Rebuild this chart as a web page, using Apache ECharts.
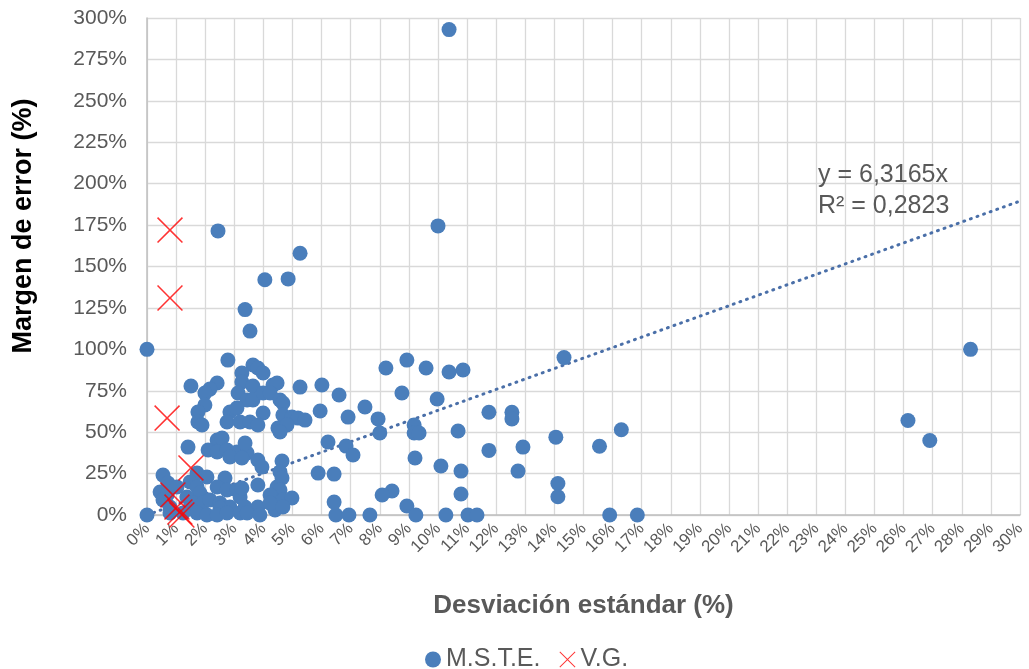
<!DOCTYPE html>
<html>
<head>
<meta charset="utf-8">
<script src="https://cdn.jsdelivr.net/npm/echarts@6/dist/echarts.min.js"></script>
<style>
html,body{margin:0;padding:0;background:#fff;}
#chart{width:1029px;height:669px;}
</style>
</head>
<body>
<div id="chart"></div>
<script>
// M.S.T.E. series: standard deviation (%) and error margin (%)
const msteX = [
  0, 0, 10.38, 2.44, 10.0, 5.26, 4.05, 4.85, 3.37, 3.54, 14.33, 28.3, 26.15, 26.9, 16.3, 15.55, 15.9, 16.85,
  14.05, 14.12, 14.12, 12.92, 12.75, 12.54, 12.54, 11.75, 11.75, 10.86, 10.38, 9.97, 10.69, 10.79, 10.79, 10.1,
  10.27, 11.03, 11.34, 9.59, 8.93, 9.18, 9.18, 9.35, 9.21, 8.93, 9.24, 8.76, 8.21, 7.94, 8.0, 8.42, 8.08, 7.66,
  7.49, 6.91, 6.84, 7.08, 6.6, 6.49, 6.94, 6.43, 6.43, 6.22, 5.95, 6.01, 5.88, 5.26,
  2.78, 3.64, 3.81, 3.99, 3.26, 3.26, 1.51, 2.41, 2.16, 1.99, 3.13, 3.64, 4.33, 4.47, 3.44, 3.64, 3.99, 4.23,
  4.57, 4.67, 1.99, 1.75, 2.85, 3.09, 3.99, 1.75, 1.89, 2.75, 3.20, 3.54, 3.81, 4.67, 4.98, 5.19, 5.43, 4.50,
  4.81, 4.57,
  1.41, 2.41, 2.58, 2.10, 2.41, 2.75, 3.09, 3.44, 2.85, 3.37, 3.26, 3.81, 3.95, 4.64, 4.57, 4.64, 0.55, 1.72,
  2.06, 2.68,
  0.72, 0.45, 0.69, 1.03, 1.48, 1.72, 1.82, 2.41, 2.75, 3.09, 3.20, 1.37, 1.58, 1.92, 2.16, 2.51, 2.85, 1.48,
  2.51, 0.79, 1.24, 1.72, 2.06, 2.41, 2.75, 3.20, 3.81, 3.26, 4.47, 4.57, 4.23, 4.67, 4.98, 3.37, 3.81, 4.40,
  3.44, 3.88, 4.23, 4.67, 0.55, 0.79
];
const msteY = [
  100, 0, 293, 171.5, 174.5, 158, 142, 142.5, 124, 111, 95, 100, 57, 45, 51.5, 41.5, 0, 0,
  47, 19, 11, 41, 26.5, 62, 58, 62, 39, 87.5, 86.3, 70, 50.7, 26.5, 12.7, 29.6,
  0, 0, 0, 88.7, 93.5, 54.3, 49.5, 49.5, 34.4, 5.4, 0, 73.6, 88.7, 58, 49.5, 14.5, 12.1, 0,
  65.2, 59.1, 41.6, 36.2, 72.4, 0, 0, 24.7, 7.8, 44.1, 62.8, 78.5, 25.3, 77.2,
  93.5, 90.5, 88.7, 85.7, 85.7, 80.3, 77.9, 79.7, 76.0, 73.6, 73.6, 77.9, 78.5, 79.7, 69.4, 69.4, 73.6, 73.6,
  69.4, 67.6, 66.4, 62.2, 62.2, 64.6, 61.6, 56.1, 54.3, 56.1, 56.1, 56.1, 54.3, 60.4, 59.1, 58.5, 57.3, 52.5,
  54.3, 50.1,
  41.0, 45.3, 46.5, 39.2, 38.0, 39.2, 38.0, 37.4, 35.0, 43.5, 34.4, 33.2, 29.0, 32.6, 26.0, 22.3, 24.1, 25.3,
  22.9, 22.3,
  19.3, 13.9, 12.1, 16.9, 19.9, 16.9, 13.3, 16.9, 15.1, 15.1, 10.9, 10.9, 7.2, 7.2, 9.1, 7.2, 4.8, 4.2,
  4.2, 1.2, 1.2, 1.2, 0, 0, 1.2, 1.2, 18.1, 16.3, 16.9, 15.1, 12.1, 9.1, 10.3, 4.8, 4.8, 3.0,
  1.2, 0, 7.2, 4.8, 9.1, 4.8
];
// V.G. series
const vgX = [0.79, 0.79, 0.69, 1.51, 0.89, 1.03, 1.13, 1.20];
const vgY = [172, 131, 58.5, 28.4, 12.1, 4.8, 1.8, 0];
// Linear trendline through origin
const trendSlope = 6.3165;
const trendR2 = '0,2823';
const trendRange = [0, 30];
const seriesNames = ['M.S.T.E.', 'V.G.'];

const crossPath = 'path://M0,1 L1,0 L12,11 L23,0 L24,1 L13,12 L24,23 L23,24 L12,13 L1,24 L0,23 L11,12 Z';
const txt = '#595959';
const font = 'Liberation Sans, Arial, sans-serif';

const chart = echarts.init(document.getElementById('chart'));
chart.setOption({
  animation: false,
  backgroundColor: '#fff',
  textStyle: {fontFamily: font},
  grid: {left: 147, right: 9, top: 18, bottom: 154, containLabel: false},
  xAxis: {
    type: 'value', min: 0, max: 30, interval: 1,
    name: 'Desviación estándar (%)', nameLocation: 'middle', nameGap: 78,
    nameTextStyle: {fontSize: 26, fontWeight: 'bold', color: txt},
    axisLine: {show: true, lineStyle: {color: '#bfbfbf', width: 1.5}},
    axisTick: {show: false},
    axisLabel: {formatter: '{value}%', rotate: 45, fontSize: 17, color: txt, margin: 11},
    splitLine: {show: true, lineStyle: {color: '#d9d9d9', width: 1.3}}
  },
  yAxis: {
    type: 'value', min: 0, max: 300, interval: 25,
    axisLine: {show: true, lineStyle: {color: '#bfbfbf', width: 1.5}},
    axisTick: {show: false},
    axisLabel: {formatter: '{value}%', fontSize: 21, color: txt, margin: 20},
    splitLine: {show: true, lineStyle: {color: '#d9d9d9', width: 1.3}}
  },
  legend: {
    data: [
      {name: seriesNames[0], icon: 'circle'},
      {name: seriesNames[1], icon: crossPath}
    ],
    top: 642, left: 420, itemGap: 19, itemWidth: 16, itemHeight: 16,
    textStyle: {fontSize: 25, color: txt}
  },
  graphic: [
    {
      type: 'text', left: 818, top: 160, z: 100,
      style: {text: 'y = ' + String(trendSlope).replace('.', ',') + 'x\nR² = ' + trendR2, fontSize: 25, lineHeight: 31, fill: txt,
        fontFamily: font}
    },
    {
      type: 'text', x: 24, y: 226, rotation: Math.PI / 2, z: 100,
      style: {text: 'Margen de error (%)', fontSize: 27, fontWeight: 'bold', fill: '#000', align: 'center', verticalAlign: 'middle',
        fontFamily: font}
    }
  ],
  series: [
    {
      name: 'trend', type: 'line', z: 1, symbol: 'none', silent: true,
      data: trendRange.map(x => [x, trendSlope * x]),
      lineStyle: {color: '#4a6fa8', width: 3, type: [1, 6], cap: 'round'}
    },
    {
      name: seriesNames[0], type: 'scatter', z: 2, symbol: 'circle', symbolSize: 15,
      itemStyle: {color: '#4a7ebb', opacity: 1},
      data: msteX.map((x, i) => [x, msteY[i]])
    },
    {
      name: seriesNames[1], type: 'scatter', z: 3, symbol: crossPath, symbolSize: 26,
      itemStyle: {color: '#ff0000'},
      data: vgX.map((x, i) => [x, vgY[i]])
    }
  ]
});
</script>
</body>
</html>
